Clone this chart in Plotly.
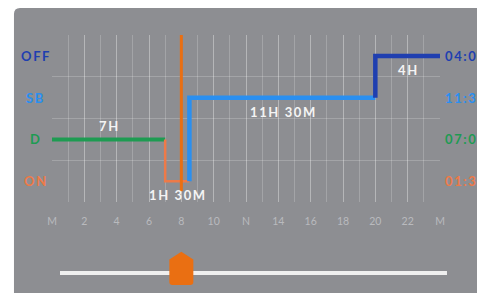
import plotly.graph_objects as go

# ---- data ----
statuses = ["ON", "D", "SB", "OFF"]          # bottom -> top rows
status_totals = ["01:30", "07:00", "11:30", "04:00"]

seg_status = ["D", "ON", "SB", "OFF"]
seg_start = [0, 7, 8.5, 20]
seg_end = [7, 8.5, 20, 24]
seg_labels = ["7H", "1H 30M", "11H 30M", "4H"]

x_tickvals = [0, 2, 4, 6, 8, 10, 12, 14, 16, 18, 20, 22, 24]
x_ticktext = ["M", "2", "4", "6", "8", "10", "N", "14", "16", "18", "20", "22", "M"]

cursor_hour = 8

# ---- style ----
colors = {"OFF": "#1f3fb0", "SB": "#2a8ff0", "D": "#1e9b52", "ON": "#ee7a48"}
widths = {"OFF": 4.5, "SB": 4.5, "D": 4, "ON": 2.5}
card = "#8d8e92"
grid = "rgba(255,255,255,0.2)"
cursor_color = "#ea6f12"
FONT = "Lato"


def spaced(s):
    return "\u2009".join(list(s))


fig = go.Figure()

# status segments
for i, s in enumerate(seg_status):
    y = statuses.index(s)
    if i == 0:
        xs, ys = [seg_start[i], seg_end[i]], [y, y]
    else:
        py = statuses.index(seg_status[i - 1])
        xs, ys = [seg_start[i], seg_start[i], seg_end[i]], [py, y, y]
    fig.add_trace(go.Scatter(x=xs, y=ys, mode="lines",
                             line=dict(color=colors[s], width=widths[s]),
                             hoverinfo="skip", showlegend=False))

# cursor line
fig.add_trace(go.Scatter(x=[cursor_hour, cursor_hour], y=[-0.24, 3.6], mode="lines",
                         line=dict(color=cursor_color, width=3),
                         hoverinfo="skip", showlegend=False))

annotations = []
# segment duration labels
for i, s in enumerate(seg_status):
    y = statuses.index(s)
    shift = 13 if s == "D" else -14
    annotations.append(dict(x=(seg_start[i] + seg_end[i]) / 2, y=y, xref="x", yref="y",
                            text=spaced(seg_labels[i]).replace("\u2009 \u2009", "  "),
                            showarrow=False, yshift=shift,
                            font=dict(family=FONT, size=13, color="#f4f4f4", weight="bold")))

# left status names and right totals
for i, s in enumerate(statuses):
    annotations.append(dict(x=-0.0438, y=i, xref="paper", yref="y", text=spaced(s),
                            showarrow=False, xanchor="center",
                            font=dict(family=FONT, size=13, color=colors[s], weight="bold")))
    annotations.append(dict(x=1.0077, y=i, xref="paper", yref="y",
                            text=spaced(status_totals[i]),
                            showarrow=False, xanchor="left",
                            font=dict(family=FONT, size=13, color=colors[s], weight="bold")))

# white page area above and left of the card (card has a rounded top-left corner)
x0, ytop, rx, ry = -0.098, 1.162, 0.0155, 0.036
shapes = [dict(type="path", xref="paper", yref="paper", layer="below",
               path=f"M -1,-1 L {x0},-1 L {x0},{ytop-ry} Q {x0},{ytop} {x0+rx},{ytop} "
                    f"L 2,{ytop} L 2,2 L -1,2 Z",
               fillcolor="white", line=dict(width=0))]

# slider track
shapes.append(dict(type="line", xref="paper", yref="paper", x0=0.0206, x1=1.018,
                   y0=-0.425, y1=-0.425, line=dict(color="#efefef", width=4), layer="above"))

# slider thumb (house shape) centred on cursor hour
c = cursor_hour
hw, cr = 0.742, 0.19
yt, ysh, yb, cry = -0.2976, -0.345, -0.497, 0.018
thumb = (f"M {c},{yt} L {c+hw},{ysh} L {c+hw},{yb+cry} Q {c+hw},{yb} {c+hw-cr},{yb} "
         f"L {c-hw+cr},{yb} Q {c-hw},{yb} {c-hw},{yb+cry} L {c-hw},{ysh} Z")
shapes.append(dict(type="path", xref="x", yref="paper", path=thumb,
                   fillcolor=cursor_color, line=dict(width=0), layer="above"))

fig.update_layout(
    width=477, height=293, autosize=False,
    margin=dict(l=52, r=37, t=35, b=91),
    paper_bgcolor=card, plot_bgcolor="rgba(0,0,0,0)",
    font=dict(family=FONT),
    shapes=shapes, annotations=annotations,
    xaxis=dict(range=[0, 24], tickmode="array", tickvals=x_tickvals, ticktext=x_ticktext,
               showgrid=True, gridcolor=grid, gridwidth=1, zeroline=False, showline=False,
               ticks="", ticklabelstandoff=11,
               tickfont=dict(family=FONT, size=10.5, color="#b9babe"),
               minor=dict(dtick=1, showgrid=True, gridcolor=grid, gridwidth=1, ticks=""),
               fixedrange=True),
    yaxis=dict(range=[-0.5, 3.5], tickmode="array", tickvals=[0.5, 1.5, 2.5],
               showticklabels=False, showgrid=True, gridcolor=grid, gridwidth=1,
               zeroline=False, showline=False, ticks="", fixedrange=True),
)

fig.write_html("out.html", config={"displayModeBar": False},
               post_script="document.body.style.margin='0';"
                           "document.body.style.overflow='hidden';")
